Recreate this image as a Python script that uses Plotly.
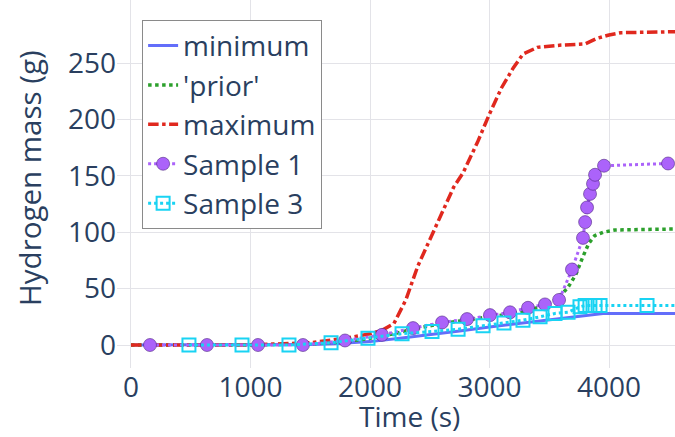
import plotly.graph_objects as go

# ---- data ----
min_t = [0, 1000, 1500, 1700, 2000, 2250, 2500, 2750, 3000, 3250, 3500, 3700, 3950, 4600]
min_v = [0, 0, 0.5, 1, 3, 6, 9, 12.5, 16, 19, 22.5, 25, 28, 28]

prior_t = [0, 1000, 1500, 1800, 2000, 2200, 2400, 2600, 2800, 3000, 3200, 3400, 3550, 3650,
           3720, 3780, 3830, 3880, 3950, 4050, 4600]
prior_v = [0, 0, 1, 3, 6, 10, 15, 19, 22, 25, 28, 33, 40, 50, 62, 78, 90, 97, 100, 102, 103]

max_t = [0, 1000, 1500, 1800, 2000, 2100, 2200, 2300, 2400, 2550, 2700, 2780, 2900, 3000,
         3100, 3200, 3280, 3400, 3600, 3800, 3900, 4000, 4100, 4600]
max_v = [0, 0, 2, 6, 10, 13, 19, 40, 70, 105, 140, 153, 180, 205, 228, 246, 258, 264, 266,
         267, 272, 275, 277, 278]

s1_t = [159, 636, 1063, 1439, 1791, 2100, 2360, 2603, 2812, 3004, 3172, 3322, 3464, 3582,
        3690, 3782, 3800, 3816, 3841, 3866, 3883, 3958, 4494]
s1_v = [0, 0, 0, 0, 4, 9, 15, 20, 23, 26.5, 29, 33, 36, 40, 67, 95, 109, 122, 134, 143, 151,
        159, 161]

s3_t = [485, 929, 1322, 1674, 1983, 2268, 2519, 2737, 2946, 3121, 3280, 3423, 3548, 3657,
        3757, 3800, 3840, 3883, 3925, 4318, 4650]
s3_v = [0, 0, 0, 2, 6, 10, 12, 14, 17, 19.5, 22, 25, 28, 29, 34, 35, 35, 35, 35, 35, 35]

x_ticks = [0, 1000, 2000, 3000, 4000]
y_ticks = [0, 50, 100, 150, 200, 250]
x_title = "Time (s)"
y_title = "Hydrogen mass (g)"

FONT = "Open Sans"
TXT = "#2a3f5f"

fig = go.Figure()
fig.add_trace(go.Scatter(x=min_t, y=min_v, name="minimum", mode="lines",
                         line=dict(color="#636efa", width=3)))
fig.add_trace(go.Scatter(x=prior_t, y=prior_v, name="'prior'", mode="lines",
                         line=dict(color="#2ca02c", width=3.5, dash="dot")))
fig.add_trace(go.Scatter(x=max_t, y=max_v, name="maximum", mode="lines",
                         line=dict(color="#e0281e", width=3.5, dash="dashdot")))
fig.add_trace(go.Scatter(x=s1_t, y=s1_v, name="Sample 1", mode="lines+markers",
                         line=dict(color="#ab63fa", width=3, dash="dot"),
                         marker=dict(symbol="circle", size=13, color="#ab63fa",
                                     line=dict(color="rgba(70,30,120,0.55)", width=1))))
fig.add_trace(go.Scatter(x=s3_t, y=s3_v, name="Sample 3", mode="lines+markers",
                         line=dict(color="#19d3f3", width=3, dash="dot"),
                         marker=dict(symbol="square-open", size=13, color="#19d3f3",
                                     line=dict(width=2))))

fig.update_layout(
    template="plotly_white",
    width=675, height=437,
    margin=dict(l=117, r=0, t=0, b=69),
    font=dict(family=FONT, size=28, color=TXT),
    showlegend=True,
    legend=dict(x=0.045, y=0.946, xanchor="left", yanchor="top",
                bgcolor="white", bordercolor="#8a8a8a", borderwidth=1,
                font=dict(size=28), itemwidth=30, tracegroupgap=0),
    xaxis=dict(range=[-117, 4552], automargin=False,
               tickvals=x_ticks, gridcolor="#e3e3e8", zeroline=False,
               ticks="", showline=False, tickfont=dict(size=28)),
    yaxis=dict(range=[-20.4, 306], automargin=False,
               tickvals=y_ticks, gridcolor="#e3e3e8", zeroline=False,
               ticks="", tickfont=dict(size=28)),
    annotations=[
        dict(text=x_title, xref="paper", yref="paper", x=0.525, y=-0.131,
             xanchor="center", yanchor="middle", showarrow=False,
             font=dict(size=28, color=TXT, family=FONT)),
        dict(text=y_title, xref="paper", yref="paper", x=-0.158, y=0.516,
             xanchor="center", yanchor="middle", showarrow=False, textangle=-90,
             font=dict(size=29.5, color=TXT, family=FONT)),
    ],
)

fig.write_html("out.html")
